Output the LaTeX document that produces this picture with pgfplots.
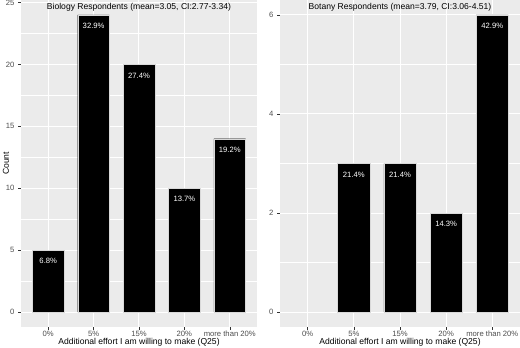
\documentclass[border=0pt]{standalone}
\usepackage{pgfplots}
\pgfplotsset{compat=1.18}
\usepackage{fontspec}
\setmainfont{Liberation Sans}
\definecolor{panelbg}{HTML}{EBEBEB}
\definecolor{tickgray}{HTML}{4D4D4D}
\definecolor{tickline}{HTML}{333333}
\pgfplotsset{
  ggstyle/.style={
    scale only axis,
    axis background/.style={fill=panelbg},
    axis line style={draw=none},
    xmin=0.4, xmax=5.6,
    xtick={1,2,3,4,5},
    xticklabels={0\%,5\%,15\%,20\%,more than 20\%},
    tick pos=left,
    tick align=outside,
    major tick length=3bp,
    minor tick length=0bp,
    tick style={color=tickline, line width=0.5bp},
    ticklabel style={font=\fontsize{7.7}{8}\selectfont, text=tickgray},
    xticklabel style={yshift=2.5bp},
    /pgf/number format/assume math mode=true,
    grid=both,
    major grid style={white, line width=1bp},
    minor grid style={white, line width=0.5bp},
    xlabel={Additional effort I am willing to make (Q25)},
    xlabel style={font=\fontsize{8.6}{10}\selectfont, at={(axis description cs:0.5,-0.046)}, anchor=center, yshift=0pt},
    ybar, bar width=0.7,
    point meta=explicit symbolic,
    nodes near coords,
    every node near coord/.append style={anchor=center, yshift=-11bp, text=white, font=\fontsize{7.7}{8}\selectfont},
    clip=false,
  }
}
\begin{document}
\begin{tikzpicture}
\useasboundingbox (0bp,0bp) rectangle (520bp,348bp);
\begin{axis}[ggstyle,
  at={(21bp,21bp)}, anchor=south west, width=236bp, height=327bp,
  ymin=-1.2, ymax=25.2,
  ytick={0,5,10,15,20,25},
  minor ytick={2.5,7.5,12.5,17.5,22.5},
  ylabel={Count},
  ylabel style={font=\fontsize{8.6}{10}\selectfont, at={(axis description cs:-0.064,0.5)}, anchor=center},
]
\addplot[fill=black, draw=white!85!black, line width=0.4bp] coordinates {
 (1,5) [6.8\%]
 (2,24) [32.9\%]
 (3,20) [27.4\%]
 (4,10) [13.7\%]
 (5,14) [19.2\%]
};
\node[font=\fontsize{8.6}{10}\selectfont, anchor=center] at (rel axis cs:0.5,0.979) {Biology Respondents (mean=3.05, CI:2.77-3.34)};
\end{axis}
\begin{axis}[ggstyle,
  at={(280bp,21bp)}, anchor=south west, width=240bp, height=327bp,
  ymin=-0.3, ymax=6.3,
  ytick={0,2,4,6},
  minor ytick={1,3,5},
]
\addplot[fill=black, draw=white!85!black, line width=0.4bp] coordinates {
 (2,3) [21.4\%]
 (3,3) [21.4\%]
 (4,2) [14.3\%]
 (5,6) [42.9\%]
};
\node[font=\fontsize{8.6}{10}\selectfont, anchor=center] at (rel axis cs:0.5,0.979) {Botany Respondents (mean=3.79, CI:3.06-4.51)};
\end{axis}
\end{tikzpicture}
\end{document}
